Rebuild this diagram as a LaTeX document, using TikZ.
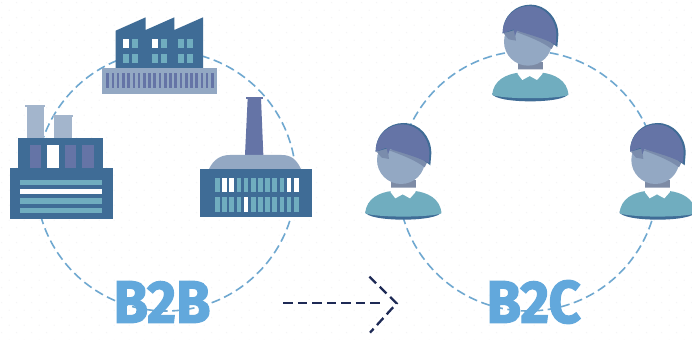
\documentclass[tikz,border=0pt]{standalone}
\usepackage{fontspec}
\setmainfont{Fira Sans}
\newfontfamily\labelfont[BoldFeatures={FakeBold=2.2}]{Fira Sans}
\definecolor{dkblue}{HTML}{3F6C96}
\definecolor{tealb}{HTML}{70ADBF}
\definecolor{grayb}{HTML}{93A8C3}
\definecolor{purpb}{HTML}{6574A6}
\definecolor{dashb}{HTML}{6FA8D0}
\definecolor{txtb}{HTML}{62A8DC}
\definecolor{navy}{HTML}{1E2A55}
\definecolor{neckc}{HTML}{7D8BA5}
\definecolor{hairs}{HTML}{7A8CAC}
\definecolor{dotc}{HTML}{F5F5F6}
\tikzset{
  ringline/.style={draw=dashb,line width=1.6pt,dash pattern=on 9pt off 4.5pt},
  flowline/.style={draw=navy,line width=2.3pt,dash pattern=on 9.5pt off 5pt},
  bigtext/.style={text=txtb,font=\labelfont\bfseries\fontsize{60}{60}\selectfont,inner sep=0pt,xscale=.93},
  pics/person/.style={code={
    \fill[neckc] (-38,185) rectangle (37,210);
    \fill[dkblue] (-115,280) .. controls (-110,312) and (110,312) .. (114,280) -- cycle;
    \fill[tealb] (-114,285) .. controls (-112,240) and (-70,222) .. (-35,218) -- (35,218) .. controls (70,222) and (112,240) .. (114,285) .. controls (80,298) and (-80,298) .. (-114,285) -- cycle;
    \fill[white] (-40,208) -- (40,208) -- (36,222) -- (20,240) -- (-2,228) -- (-24,240) -- (-38,222) -- cycle;
    \fill[grayb] (-7,125) ellipse [x radius=72,y radius=72];
    \fill[hairs] (-80,100) -- (-48,85) -- (-43,122) -- (-65,118) -- cycle;
    \fill[hairs] (-45,95) .. controls (0,112) and (35,125) .. (64,147) -- (75,125) -- (0,90) -- cycle;
    \fill[dkblue] (-83,100) .. controls (-83,45) and (-42,14) .. (0,14) .. controls (48,14) and (84,55) .. (84,105) -- (81,141) -- (60,125) -- (-30,85) -- cycle;
    \fill[purpb] (-83,100) .. controls (-83,48) and (-42,18) .. (-3,18) .. controls (42,18) and (78,58) .. (78,105) -- (76,134) .. controls (50,118) and (0,105) .. (-40,92) -- (-46,108) -- (-50,88) -- cycle;
  }}
}
\begin{document}
\begin{tikzpicture}[x=.33333pt,y=-.33333pt]
\useasboundingbox (0,0) rectangle (2076,1020);
\fill[white] (0,0) rectangle (2076,1020);
\foreach \r in {0,...,45}{\foreach \c in {0,...,46}{
  \pgfmathsetmacro{\dx}{mod(\r,2)*22.5}
  \fill[dotc] ({\c*45+\dx+5},{\r*22.5+8}) circle (2.2);
}}
% rings
\coordinate (ringL) at (498,543);
\coordinate (ringR) at (1584,543);
\draw[ringline] (ringL) circle [radius=390];
\draw[ringline] (ringR) circle [radius=390];
% top factory
\fill[dkblue] (347,92) -- (437,52) -- (437,90) -- (523,52) -- (523,90) -- (609,52) -- (609,205) -- (347,205) -- cycle;
\foreach \x/\y/\c in {368/117/white,395/117/tealb,368/162/tealb,395/162/tealb,455/117/white,482/117/tealb,455/162/tealb,482/162/tealb,535/117/tealb,562/117/tealb,535/162/tealb,562/162/tealb}
  \fill[\c] (\x,\y) rectangle +(18,28);
\fill[grayb] (306,205) rectangle (650,283);
\foreach \i in {0,...,20}
  \fill[purpb] ({319+\i*15.7},218) rectangle +(8,47);
% left factory
\fill[grayb!85!white] (80,318) rectangle (131,415);
\fill[grayb!85!white] (75,315) rectangle (135,322);
\fill[grayb!85!white] (162,350) rectangle (215,415);
\fill[grayb!85!white] (160,346) rectangle (218,352);
\fill[dkblue] (55,414) rectangle (309,505);
\fill[dkblue] (31,504) rectangle (338,656);
\foreach \x/\c in {89/purpb,142/white,195/purpb,247/purpb}
  \fill[\c] (\x,436) rectangle +(34,69);
\foreach \y/\c in {539/tealb,567/white,595/tealb,623/tealb}
  \fill[\c] (60,\y) rectangle +(246,16);
% right factory
\fill[purpb] (743,295) -- (783,295) -- (790,465) -- (735,465) -- cycle;
\fill[purpb] (737,291) rectangle (790,297);
\fill[grayb] (627,507) .. controls (640,480) and (660,465) .. (690,465) -- (845,465) .. controls (875,465) and (890,480) .. (903,507) -- cycle;
\fill[dkblue] (600,507) rectangle (937,650);
\foreach \i in {0,...,11}{
  \pgfmathsetmacro{\xx}{645+\i*21.5}
  \pgfmathsetmacro{\cA}{(\i==1||\i==2||\i==10||\i==11)?100:0}
  \pgfmathsetmacro{\cB}{(\i==4)?100:0}
  \fill[white!\cA!tealb] (\xx,534) rectangle +(14,43);
  \fill[white!\cB!tealb] (\xx,592) rectangle +(14,43);
}
% people
\pic at (1591,0) {person};
\pic at (1210,355) {person};
\pic at (1973,355) {person};
% labels
\node[bigtext] (lblBB) at (486,906) {B2B};
\node[bigtext] (lblBC) at (1601,906) {B2C};
% arrow
\coordinate (arrS) at (850,910);
\coordinate (arrE) at (1150,910);
\coordinate (arrT) at (1108,830);
\coordinate (arrM) at (1190,910);
\coordinate (arrB) at (1110,998);
\draw[flowline] (arrS) -- (arrE);
\draw[flowline] (arrT) -- (arrM) -- (arrB);
\end{tikzpicture}
\end{document}
